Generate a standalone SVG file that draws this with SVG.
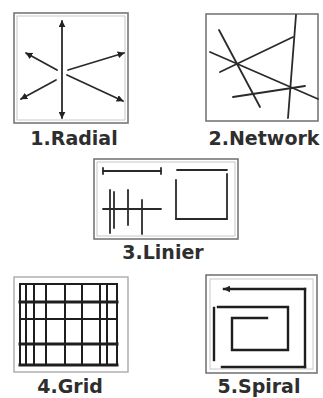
<svg xmlns="http://www.w3.org/2000/svg" width="323" height="398" viewBox="0 0 323 398">
<defs>
<marker id="ah" viewBox="0 0 10 10" refX="9" refY="5" markerWidth="7" markerHeight="7" markerUnits="userSpaceOnUse" orient="auto-start-reverse">
<path d="M0,0 L10,5 L0,10 z" fill="#222"/>
</marker>
<style>
.frame{fill:none;stroke:#777;stroke-width:1.6}
.frame2{fill:none;stroke:#c8c8c8;stroke-width:1}
.ln{fill:none;stroke:#2a2a2a;stroke-width:1.8;stroke-linecap:round}
.thk{fill:none;stroke:#1e1e1e;stroke-width:2.4;stroke-linecap:square}
.lbl{font-family:"DejaVu Sans",sans-serif;font-weight:bold;font-size:19px;fill:#2e2e2e;text-anchor:middle}
</style>
</defs>
<rect width="323" height="398" fill="#fff"/>

<g id="radial">
<rect class="frame" x="14" y="13" width="114" height="110"/>
<rect class="frame2" x="17" y="16" width="108" height="104"/>
<line class="ln" x1="62" y1="21" x2="62" y2="118" marker-start="url(#ah)" marker-end="url(#ah)"/>
<line class="ln" x1="57" y1="70" x2="26" y2="53" marker-end="url(#ah)"/>
<line class="ln" x1="68" y1="70" x2="124" y2="53" marker-end="url(#ah)"/>
<line class="ln" x1="56" y1="80" x2="21" y2="99" marker-end="url(#ah)"/>
<line class="ln" x1="67" y1="75" x2="123" y2="101" marker-end="url(#ah)"/>
<text class="lbl" x="74" y="145">1.Radial</text>
</g>

<g id="network">
<rect class="frame" x="206" y="14" width="112" height="107"/>
<line class="ln" x1="296" y1="15" x2="288" y2="118"/>
<line class="ln" x1="219" y1="30" x2="260" y2="107"/>
<line class="ln" x1="210" y1="52" x2="318" y2="99"/>
<line class="ln" x1="220" y1="72" x2="293" y2="37"/>
<line class="ln" x1="233" y1="97" x2="305" y2="86"/>
<text class="lbl" x="264" y="145">2.Network</text>
</g>

<g id="linier">
<rect class="frame" x="94" y="159" width="144" height="80"/>
<rect class="frame2" x="97" y="162" width="138" height="74"/>
<line class="ln" x1="103" y1="171" x2="161" y2="171"/>
<line class="ln" x1="103" y1="168" x2="103" y2="174"/>
<line class="ln" x1="161" y1="168" x2="161" y2="174"/>
<line class="ln" x1="103" y1="209" x2="161" y2="209"/>
<line class="ln" x1="110" y1="190" x2="110" y2="233"/>
<line class="ln" x1="114" y1="192" x2="114" y2="228"/>
<line class="ln" x1="128" y1="190" x2="128" y2="225"/>
<line class="ln" x1="142" y1="200" x2="142" y2="234"/>
<line class="ln" x1="177" y1="170" x2="227" y2="170"/>
<line class="ln" x1="227" y1="174" x2="227" y2="219"/>
<line class="ln" x1="176" y1="219" x2="227" y2="219"/>
<line class="ln" x1="176" y1="180" x2="176" y2="219"/>
<text class="lbl" x="163" y="259">3.Linier</text>
</g>

<g id="grid">
<rect class="frame2" x="14" y="277" width="114" height="95" style="stroke:#aaa;stroke-width:1.4"/>
<g class="thk" style="stroke-width:2">
<line x1="20" y1="284" x2="20" y2="365"/>
<line x1="26" y1="284" x2="26" y2="365"/>
<line x1="34" y1="284" x2="34" y2="365"/>
<line x1="46" y1="284" x2="46" y2="365"/>
<line x1="65" y1="284" x2="65" y2="365"/>
<line x1="82" y1="284" x2="82" y2="365"/>
<line x1="100" y1="284" x2="100" y2="365"/>
<line x1="107" y1="284" x2="107" y2="365"/>
<line x1="117" y1="284" x2="117" y2="365"/>
<line x1="20" y1="284" x2="117" y2="284"/>
<line x1="20" y1="319" x2="117" y2="319"/>
</g>
<g class="thk" style="stroke-width:3">
<line x1="20" y1="302" x2="117" y2="302"/>
<line x1="20" y1="344" x2="117" y2="344"/>
<line x1="20" y1="365" x2="117" y2="365"/>
</g>
<text class="lbl" x="70" y="393">4.Grid</text>
</g>

<g id="spiral">
<rect class="frame" x="206" y="275" width="111" height="98"/>
<rect class="frame2" x="210" y="279" width="103" height="90"/>
<line class="thk" x1="305" y1="289" x2="224" y2="289" marker-end="url(#ah)"/>
<line class="thk" x1="305" y1="289" x2="305" y2="367"/>
<line class="thk" x1="222" y1="367" x2="305" y2="367"/>
<line class="thk" x1="214" y1="308" x2="214" y2="360"/>
<polyline class="thk" points="218,307 288,307 288,350 232,350 232,318 267,318"/>
<text class="lbl" x="259" y="393">5.Spiral</text>
</g>
</svg>
